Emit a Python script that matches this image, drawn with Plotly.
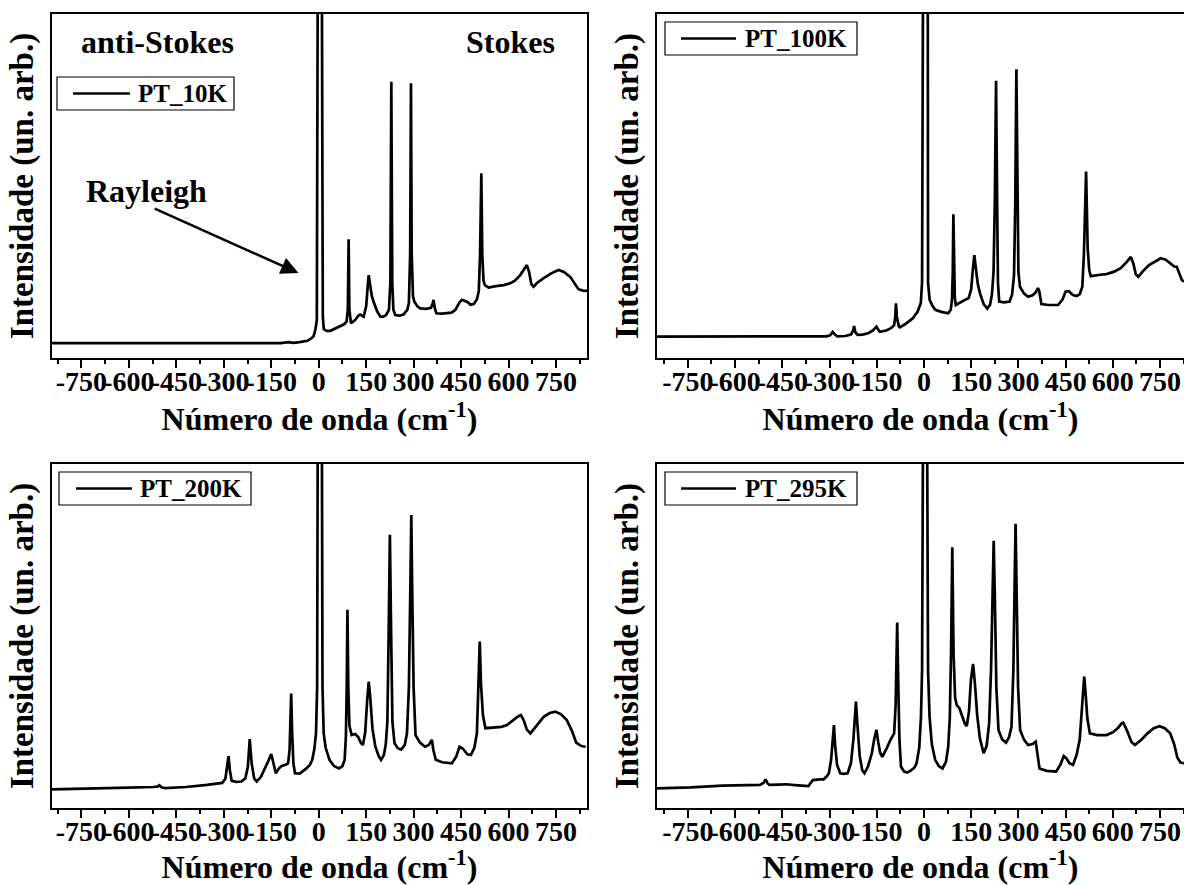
import plotly.graph_objects as go

# ---------------- data (wavenumber cm^-1, intensity arb. units) ----------------
pt10_x = [-843, -600, -300, -120, -96, -80, -60, -36, -22, -16, -10, -6, -3, 3, 10, 13, 16, 25, 37, 60, 80, 88, 92, 94.6, 97, 102,
          115, 125, 131, 142, 150, 155, 158, 162, 168, 174, 185, 195, 205, 213, 222, 226.5, 229.5, 232.5, 236, 242, 255, 268,
          280, 285, 289, 291.6, 294, 298, 302, 312, 321, 340, 355, 360, 363, 367, 372, 390, 405, 420, 432, 445, 453, 462, 470,
          480, 490, 500, 506, 510, 514, 517, 521, 525, 537, 560, 585, 605, 620, 637, 650, 658, 665, 672, 679, 690, 711, 735,
          758, 775, 795, 808, 821, 835, 848]
pt10_y = [4.3, 4.3, 4.3, 4.3, 4.6, 4.4, 4.6, 5.0, 5.8, 6.4, 8.5, 11, 110, 1000, 110, 12, 8.4, 7.9, 7.9, 9.0, 9.8, 10.6, 14, 34.5, 14, 10.1,
          11, 12.3, 12.6, 12.0, 15, 21, 24.1, 21.5, 18, 16.2, 13.5, 12.0, 12.0, 12.5, 14, 22, 80.3, 22, 14, 12.5, 12.3, 12.6,
          14, 16, 30, 79.9, 30, 18, 16.4, 15, 14.4, 14.3, 14.6, 15.8, 16.9, 14.5, 13.0, 12.9, 13.0, 13.2, 14.0, 16.2, 16.9, 16.7, 16.3,
          15.5, 15.7, 17, 19.5, 30, 53.7, 30, 22.5, 21.2, 20.5, 20.9, 21.2, 21.7, 22.5, 24.1, 26, 27.0, 25, 21.5, 20.7, 21.8, 23.2, 24.6,
          25.6, 25.0, 23.6, 21.6, 20.0, 19.6, 19.5]

pt100_x = [-848, -600, -400, -310, -298, -290, -283, -275, -250, -232, -225, -222, -218, -211, -195, -177, -162, -151, -145, -140,
           -120, -106, -95, -91, -89, -86, -80, -77, -60, -36, -20, -10, -6, -3, 3, 10, 13, 18, 27, 36, 55, 77, 85, 89, 91.5, 93.4,
           96, 98, 101, 115, 130, 142, 150, 155, 160, 165, 171, 178, 190, 201, 210, 216, 221, 225, 229, 232.5, 235, 239, 255, 272,
           280, 286, 290, 293.6, 297, 300, 305, 318, 331, 345, 356, 362, 366, 370, 373, 395, 426, 440, 450, 460, 473, 485, 495,
           503, 508, 515, 520, 525, 530, 560, 580, 604, 625, 645, 657, 665, 673, 681, 695, 715, 735, 752, 768, 781, 795, 803,
           812, 819, 826]
pt100_y = [6.2, 6.2, 6.2, 6.3, 6.6, 7.6, 6.8, 6.3, 6.4, 6.8, 8.0, 9.3, 7.5, 6.7, 6.8, 7.2, 8.0, 9.1, 8.2, 7.6,
           8.0, 8.6, 9.5, 12, 15.9, 12, 9.2, 8.9, 9.8, 11.5, 13.5, 16, 22, 110, 1000, 110, 22, 16.9, 15.2, 14.0, 13.4, 13.0, 14, 16.9, 25, 41.8,
           25, 17.5, 15.4, 16.2, 16.9, 17.4, 20, 25.5, 29.9, 26, 21.5, 18.8, 15.6, 14.4, 15.5, 18.5, 25, 45, 80.6, 45, 22, 16.4, 16.2, 16.4,
           18.5, 24, 45, 83.9, 45, 25, 20.7, 18.7, 17.8, 18.2, 19.2, 20.3, 19.5, 16.8, 15.7, 15.4, 15.4, 17.0, 19.3, 19.4, 18.3, 18.0, 18.6,
           20.7, 30, 54.2, 32, 25.5, 23.8, 24.2, 24.4, 25.1, 26.1, 28.0, 29.4, 27.5, 24.3, 23.6, 25.2, 27.0, 28.2, 29.0, 28.6, 27.5, 26.6, 26.5,
           24.5, 22.7, 22.2]

pt200_x = [-843, -700, -600, -523, -510, -504, -497, -486, -420, -353, -320, -305, -295, -289, -285, -281, -275, -260, -244.6, -232,
           -224, -218, -212, -204, -196, -183, -172, -160, -150, -143, -135.6, -125, -117, -104, -96.7, -92, -89, -87, -84, -80, -75,
           -60, -39, -28, -20.5, -14, -8.5, -5, -3, 3, 10, 12, 15.7, 22, 34, 48, 64, 75, 82, 86, 88.5, 90.8, 93.5, 97, 104, 115, 124.5,
           133, 140, 147, 153, 158, 163, 170, 179, 190, 197, 206, 212, 217, 221, 225, 229, 233, 239.6, 250, 261, 272, 279, 285, 289,
           292.7, 296, 300, 306, 320, 336, 348, 354, 358, 362, 370, 390, 421, 435, 445, 455, 470, 481, 492, 500, 505, 509, 513, 519,
           527, 550, 578, 595, 614, 630, 639, 648, 658, 669, 685, 711, 730, 748, 765, 784, 800, 814, 830, 844]
pt200_y = [5.4, 5.6, 5.9, 6.1, 6.2, 6.6, 6.0, 5.8, 6.1, 6.7, 7.0, 7.3, 8.5, 12, 15.1, 11, 7.9, 7.6, 7.7, 8.6,
           12, 20.0, 13, 8.6, 7.7, 9.0, 11.0, 13.5, 15.7, 13, 10.1, 11.6, 12.2, 12.6, 13.0, 17, 26, 33.3, 22, 13, 10.1,
           10.0, 11.5, 12.5, 14.0, 17, 21.7, 35, 110, 1000, 110, 35, 21.7, 17.5, 14.0, 12.2, 11.5, 12.2, 14.0, 21, 35, 57.6, 35, 24, 21.2, 21.5, 20.7,
           19, 18.3, 22, 31, 36.7, 32, 23, 17.8, 15, 14.0, 15.4, 18.5, 25, 50, 79.4, 50, 25, 18.8, 17.4, 17.0, 18.3, 21.7, 35, 60,
           85.2, 60, 35, 21.2, 19, 17.8, 18.3, 19.3, 19.8, 17, 14.0, 13.3, 13.0, 15.0, 17.8, 17.3, 15.6, 15.4, 17.5, 21.7, 35, 48.4, 36, 27,
           23.2, 23.3, 23.6, 24.1, 25.6, 26.6, 27.0, 25.5, 22.8, 21.7, 23.5, 26.5, 27.6, 28.0, 27.3, 25.6, 22.5, 19.0, 18.0, 17.8]

pt295_x = [-848, -740, -639, -560, -521, -510, -503, -497, -491, -460, -438, -400, -367, -359, -353, -330, -319, -308, -302, -295,
           -290, -286, -282, -276, -266, -255, -242.5, -232, -224, -219, -216, -212, -204, -196, -189, -178, -165.6, -158, -151, -145,
           -139, -132.5, -120, -106.5, -94.7, -90, -87.5, -85, -82, -78, -73, -63, -53, -40, -30, -23.5, -15, -9.5, -6, -3, 3, 10, 13,
           17.8, 25, 35.6, 47, 59, 70, 77, 82, 86, 90, 94, 99, 104, 112.5, 122, 130, 136, 143, 149, 156, 162, 169, 177.6, 189.4, 199,
           207, 213, 218, 221.5, 225, 230, 236.7, 248, 260.6, 270, 278, 284, 288, 291, 294, 299, 305.4, 318, 331, 345, 355, 360, 367,
           390, 420, 433, 444, 452, 462, 473.5, 485, 494.7, 501, 505, 509, 513, 519, 527, 550, 580, 600, 615.5, 628, 633, 645, 659,
           670, 690, 710, 730, 748, 765, 782, 795, 805, 815, 826]
pt295_y = [5.7, 6.0, 6.5, 6.6, 6.7, 7.3, 8.3, 7.2, 6.7, 6.8, 6.9, 6.6, 6.4, 7.4, 8.1, 8.3, 8.3, 9.3, 10.1, 14,
           19, 24.1, 18, 12.5, 10.1, 9.9, 10.1, 13, 20, 27.5, 30.9, 25, 15, 11, 10.1, 12.0, 15.9, 20, 22.7, 19,
           16.0, 14.9, 17.0, 19.8, 21.7, 30, 42, 53.9, 38, 20, 12.0, 10.6, 10.3, 11.0, 11.8, 13.0, 17.5, 26.5, 40, 110, 1000, 110, 40,
           26.5, 18.5, 14.0, 12.2, 11.5, 13.5, 17.8, 26, 45, 75.8, 45, 32, 29.9, 29.0, 26.5, 24.5, 23.8, 28, 37, 41.9, 36, 27, 20.3, 15.9, 18,
           24.6, 40, 65, 77.7, 62, 35, 22.7, 20.0, 19.0, 20.5, 23.6, 40, 65, 82.6, 65, 35, 22.7, 19.8, 18.3, 18.6, 19.3, 16, 11.5,
           10.8, 10.6, 12.5, 15.1, 14.5, 13.0, 12.5, 15.5, 19.8, 28, 35, 38.2, 34, 26, 21.7, 21.2, 21.2, 22.0, 23.2, 24.6, 24.8, 22.5, 19.2,
           18.3, 19.8, 21.7, 23.2, 23.8, 23.2, 21.7, 18.5, 14.6, 13.2, 13.0]

series_names = ["PT_10K", "PT_100K", "PT_200K", "PT_295K"]
tick_vals = [-750, -600, -450, -300, -150, 0, 150, 300, 450, 600, 750]
tick_text = ["-750", "-600", "-450", "-300", "-150", "0", "150", "300", "450", "600", "750"]

# ---------------- layout helpers ----------------
W, H = 1184, 885
FONT = "Liberation Serif, Times New Roman, serif"


def px(x):
    return x / W


def py(y):
    return 1 - y / H


fig = go.Figure()
data = [(pt10_x, pt10_y), (pt100_x, pt100_y), (pt200_x, pt200_y), (pt295_x, pt295_y)]
for i, ((xs, ys), name) in enumerate(zip(data, series_names)):
    ax = "" if i == 0 else str(i + 1)
    fig.add_trace(go.Scatter(x=xs, y=ys, mode="lines", name=name, showlegend=False,
                             line=dict(color="black", width=2.7),
                             xaxis="x" + ax, yaxis="y" + ax))

# panel geometry (pixels)
panels = [
    dict(x0=52, x1=587, y0=14, y1=358, rng=[-843, 848], right=True),
    dict(x0=657, x1=1184, y0=14, y1=358, rng=[-848, 826], right=False),
    dict(x0=52, x1=587, y0=464, y1=808, rng=[-843, 848], right=True),
    dict(x0=657, x1=1184, y0=464, y1=808, rng=[-848, 826], right=False),
]

layout = dict(width=W, height=H, margin=dict(l=0, r=0, t=0, b=0),
              paper_bgcolor="white", plot_bgcolor="white",
              font=dict(family=FONT, color="black"))

for i, p in enumerate(panels):
    sfx = "" if i == 0 else str(i + 1)
    layout["xaxis" + sfx] = dict(
        domain=[px(p["x0"]), px(p["x1"])], anchor="y" + sfx, range=p["rng"],
        tickmode="array", tickvals=tick_vals, ticktext=tick_text, tickangle=0,
        ticks="outside", ticklen=8, tickwidth=2, tickcolor="black", ticklabelstandoff=-11,
        minor=dict(tick0=0, dtick=75, ticks="outside", ticklen=4, tickwidth=2, tickcolor="black", showgrid=False),
        showline=True, linewidth=2, linecolor="black", mirror=True,
        showgrid=False, zeroline=False,
        tickfont=dict(family=FONT, size=28, weight="bold", color="black"),
        title=dict(text="Número de onda (cm<sup>-1</sup>)", standoff=0,
                   font=dict(family=FONT, size=32, weight="bold", color="black")),
    )
    layout["yaxis" + sfx] = dict(
        domain=[py(p["y1"]), py(p["y0"])], anchor="x" + sfx, range=[0, 100],
        showticklabels=False, ticks="", showline=True, linewidth=2, linecolor="black",
        mirror=p["right"], showgrid=False, zeroline=False,
        title=dict(text="Intensidade (un. arb.)", standoff=6,
                   font=dict(family=FONT, size=33, weight="bold", color="black")),
    )

fig.update_layout(**layout)

# ---------------- legends (drawn as boxes) ----------------
legend_boxes = [
    dict(bx0=57, bx1=234, by0=77, by1=110, lx0=73, lx1=130, tx=136),
    dict(bx0=665, bx1=857, by0=22, by1=55, lx0=681, lx1=736, tx=743),
    dict(bx0=59, bx1=251, by0=472, by1=505, lx0=76, lx1=132, tx=138),
    dict(bx0=665, bx1=857, by0=472, by1=505, lx0=681, lx1=736, tx=743),
]
shapes = []
annotations = []
for lb, name in zip(legend_boxes, series_names):
    yc = (lb["by0"] + lb["by1"]) / 2
    shapes.append(dict(type="rect", xref="paper", yref="paper",
                       x0=px(lb["bx0"]), x1=px(lb["bx1"]), y0=py(lb["by1"]), y1=py(lb["by0"]),
                       line=dict(color="black", width=1.2), fillcolor="white"))
    shapes.append(dict(type="line", xref="paper", yref="paper",
                       x0=px(lb["lx0"]), x1=px(lb["lx1"]), y0=py(yc), y1=py(yc),
                       line=dict(color="black", width=2.5)))
    annotations.append(dict(text=name, xref="paper", yref="paper", x=px(lb["tx"]), y=py(yc),
                            xanchor="left", yanchor="middle", showarrow=False,
                            font=dict(family=FONT, size=25, weight="bold", color="black")))

# ---------------- text annotations on the first panel ----------------
annotations += [
    dict(text="anti-Stokes", x=-510, y=91.9, xref="x", yref="y", showarrow=False,
         font=dict(family=FONT, size=32, weight="bold", color="black")),
    dict(text="Stokes", x=605, y=91.9, xref="x", yref="y", showarrow=False,
         font=dict(family=FONT, size=32, weight="bold", color="black")),
    dict(text="Rayleigh", x=-545, y=48.5, xref="x", yref="y", showarrow=False,
         font=dict(family=FONT, size=32, weight="bold", color="black")),
    dict(text="", x=-64, y=24.7, xref="x", yref="y", ax=-523, ay=43.6, axref="x", ayref="y",
         showarrow=True, arrowhead=2, arrowsize=1.4, arrowwidth=2.5, arrowcolor="black"),
]

fig.update_layout(shapes=shapes, annotations=annotations)
fig.write_html("out.html")
